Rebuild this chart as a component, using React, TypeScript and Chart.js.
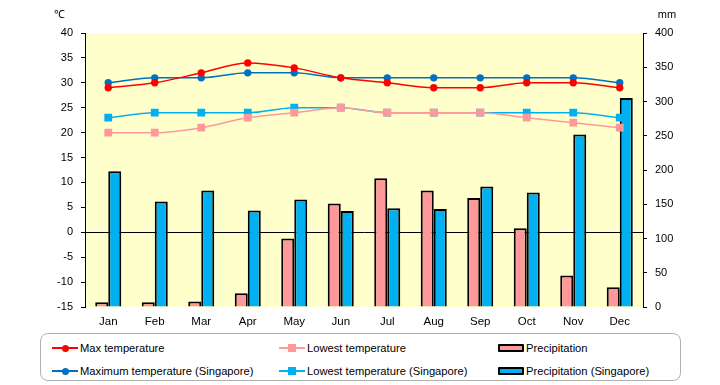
import React, { useEffect, useRef } from "react";
import { Chart, registerables } from "chart.js";

Chart.register(...registerables);

const months = ["Jan", "Feb", "Mar", "Apr", "May", "Jun", "Jul", "Aug", "Sep", "Oct", "Nov", "Dec"];
const maxTemp = [29, 30, 32, 34, 33, 31, 30, 29, 29, 30, 30, 29];
const lowTemp = [20, 20, 21, 23, 24, 25, 24, 24, 24, 23, 22, 21];
const precip = [7, 7, 8, 20, 100, 151, 188, 170, 159, 115, 46, 29];
const maxTempSg = [30, 31, 31, 32, 32, 31, 31, 31, 31, 31, 31, 30];
const lowTempSg = [23, 24, 24, 24, 25, 25, 24, 24, 24, 24, 24, 23];
const precipSg = [198, 154, 170, 141, 157, 140, 144, 143, 176, 167, 252, 305];
const tempTicks = { min: -15, max: 40, step: 5 };
const precipTicks = { min: 0, max: 400, step: 50 };

const FONT = "'Liberation Sans', Arial, sans-serif";

const RED = "#FF0000";
const PINK = "#FF9999";
const DBLUE = "#0070C0";
const LBLUE = "#00B0F0";

const bgPlugin = {
  id: "bgPlugin",
  beforeDraw(chart: any) {
    const { ctx, chartArea } = chart;
    ctx.save();
    ctx.fillStyle = "#FFFFCC";
    ctx.fillRect(chartArea.left, chartArea.top, chartArea.right - chartArea.left, chartArea.bottom - chartArea.top);
    ctx.restore();
  },
  afterDraw(chart: any) {
    const { ctx, chartArea } = chart;
    ctx.save();
    ctx.fillStyle = "#000";
    ctx.font = `11px ${FONT}`;
    ctx.textAlign = "center";
    ctx.textBaseline = "middle";
    ctx.fillText("℃", chartArea.left - 26, 15);
    ctx.fillText("mm", chartArea.right + 24, 15);
    ctx.restore();
  },
};

type LegendItem = { label: string; kind: "line" | "bar"; color: string; marker?: "circle" | "square"; col: number; row: number };
const legendItems: LegendItem[] = [
  { label: "Max temperature", kind: "line", color: RED, marker: "circle", col: 0, row: 0 },
  { label: "Lowest temperature", kind: "line", color: PINK, marker: "square", col: 1, row: 0 },
  { label: "Precipitation", kind: "bar", color: PINK, col: 2, row: 0 },
  { label: "Maximum temperature (Singapore)", kind: "line", color: DBLUE, marker: "circle", col: 0, row: 1 },
  { label: "Lowest temperature (Singapore)", kind: "line", color: LBLUE, marker: "square", col: 1, row: 1 },
  { label: "Precipitation (Singapore)", kind: "bar", color: LBLUE, col: 2, row: 1 },
];
const colX = [52, 279, 498];
const rowY = [348, 371];

function Legend() {
  return (
    <>
      <div
        style={{
          position: "absolute",
          left: 40,
          top: 333,
          width: 641,
          height: 48,
          border: "1px solid #B0B0B0",
          borderRadius: 8,
          boxSizing: "border-box",
        }}
      />
      {legendItems.map((it, i) => (
        <div
          key={i}
          style={{
            position: "absolute",
            left: colX[it.col],
            top: rowY[it.row] - 8,
            height: 16,
            display: "flex",
            alignItems: "center",
            font: `11.2px ${FONT}`,
            color: "#000",
            whiteSpace: "nowrap",
          }}
        >
          <div style={{ position: "relative", width: 26, height: 16, marginRight: 2 }}>
            {it.kind === "line" ? (
              <>
                <div style={{ position: "absolute", left: 0, top: 7, width: 26, height: 2, background: it.color }} />
                <div
                  style={{
                    position: "absolute",
                    left: it.marker === "circle" ? 9.5 : 9,
                    top: it.marker === "circle" ? 4.5 : 4,
                    width: it.marker === "circle" ? 7 : 8,
                    height: it.marker === "circle" ? 7 : 8,
                    borderRadius: it.marker === "circle" ? "50%" : 0,
                    background: it.color,
                  }}
                />
              </>
            ) : (
              <div
                style={{
                  position: "absolute",
                  left: 0,
                  top: 4,
                  width: 26,
                  height: 8,
                  background: it.color,
                  border: "2px solid #000",
                  borderRadius: 1,
                  boxSizing: "border-box",
                }}
              />
            )}
          </div>
          <span>{it.label}</span>
        </div>
      ))}
    </>
  );
}

export default function App() {
  const ref = useRef<HTMLCanvasElement | null>(null);

  useEffect(() => {
    if (!ref.current) return;
    const lineDs = (label: string, data: number[], color: string, style: string, r: number) => ({
      type: "line" as const,
      label,
      data,
      yAxisID: "y",
      borderColor: color,
      backgroundColor: color,
      borderWidth: 1.5,
      pointStyle: style,
      pointRadius: r,
      pointBorderWidth: 0,
      pointBackgroundColor: color,
      cubicInterpolationMode: "monotone" as const,
      order: 0,
    });
    const barDs = (label: string, data: number[], color: string) => ({
      type: "bar" as const,
      label,
      data,
      yAxisID: "y1",
      backgroundColor: color,
      borderColor: "#000",
      borderWidth: 2,
      barPercentage: 1,
      categoryPercentage: 0.56,
      order: 1,
    });
    const chart = new Chart(ref.current, {
      type: "bar",
      data: {
        labels: months,
        datasets: [
          barDs("Precipitation", precip, PINK),
          barDs("Precipitation (Singapore)", precipSg, LBLUE),
          lineDs("Lowest temperature", lowTemp, PINK, "rect", 5.5),
          lineDs("Lowest temperature (Singapore)", lowTempSg, LBLUE, "rect", 5.5),
          lineDs("Max temperature", maxTemp, RED, "circle", 3.7),
          lineDs("Maximum temperature (Singapore)", maxTempSg, DBLUE, "circle", 3.7),
        ] as any,
      },
      options: {
        animation: false,
        responsive: false,
        layout: { padding: { top: 33, left: 0, right: 0, bottom: 0 } },
        plugins: { legend: { display: false }, tooltip: { enabled: false } },
        scales: {
          x: {
            offset: true,
            grid: { display: false },
            border: { display: false },
            ticks: { color: "#000", font: { family: FONT, size: 11.5 }, padding: 0, maxRotation: 0 },
            afterFit(scale: any) {
              scale.height = 23;
            },
          },
          y: {
            position: "left",
            min: tempTicks.min,
            max: tempTicks.max,
            ticks: { stepSize: tempTicks.step, color: "#000", font: { family: FONT, size: 11 }, padding: 8 },
            grid: {
              drawOnChartArea: true,
              color: (c: any) => (c.tick && c.tick.value === 0 ? "#000" : "rgba(0,0,0,0)"),
              tickColor: "#000",
              tickLength: 4,
              lineWidth: 1,
            },
            border: { display: true, color: "#000", width: 1 },
            afterFit(scale: any) {
              scale.width = 85;
            },
          },
          y1: {
            position: "right",
            min: precipTicks.min,
            max: precipTicks.max,
            ticks: { stepSize: precipTicks.step, color: "#000", font: { family: FONT, size: 11 }, padding: 8 },
            grid: { drawOnChartArea: false, tickColor: "#000", tickLength: 4 },
            border: { display: true, color: "#000", width: 1 },
            afterFit(scale: any) {
              scale.width = 77;
            },
          },
        },
      } as any,
      plugins: [bgPlugin],
    });
    return () => chart.destroy();
  }, []);

  return (
    <div style={{ position: "fixed", left: 0, top: 0, width: 720, height: 385, background: "#fff" }}>
      <canvas ref={ref} width={720} height={330} style={{ position: "absolute", left: 0, top: 0, width: 720, height: 330 }} />
      <Legend />
    </div>
  );
}
